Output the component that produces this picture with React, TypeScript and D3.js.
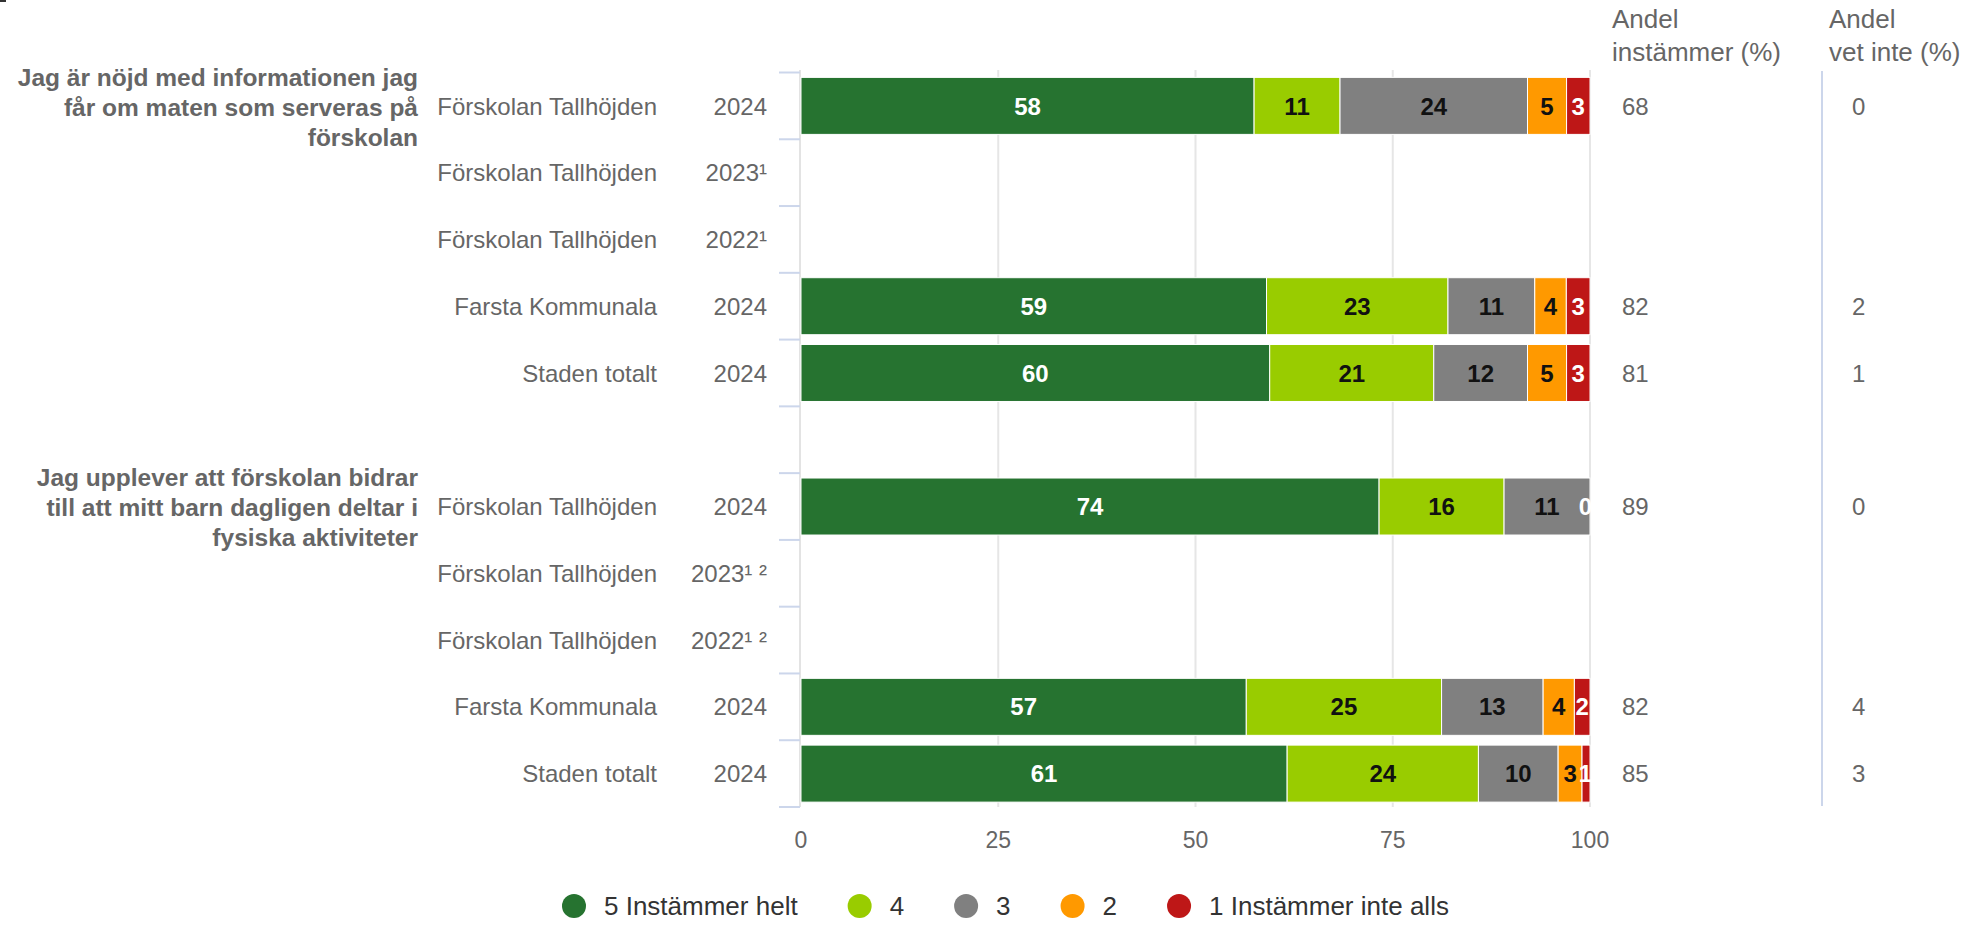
import React, { useEffect, useRef } from "react";
import * as d3 from "d3";

const questions: string[][] = [
  ["Jag är nöjd med informationen jag", "får om maten som serveras på", "förskolan"],
  ["Jag upplever att förskolan bidrar", "till att mitt barn dagligen deltar i", "fysiska aktiviteter"],
];
const questionRows = [0, 6];

const units = [
  "Förskolan Tallhöjden", "Förskolan Tallhöjden", "Förskolan Tallhöjden", "Farsta Kommunala", "Staden totalt",
  "",
  "Förskolan Tallhöjden", "Förskolan Tallhöjden", "Förskolan Tallhöjden", "Farsta Kommunala", "Staden totalt",
];
const years = ["2024", "2023¹", "2022¹", "2024", "2024", "", "2024", "2023¹ ²", "2022¹ ²", "2024", "2024"];

const seriesNames = ["5 Instämmer helt", "4", "3", "2", "1 Instämmer inte alls"];
const s5 = [58, null, null, 59, 60, null, 74, null, null, 57, 61];
const s4 = [11, null, null, 23, 21, null, 16, null, null, 25, 24];
const s3 = [24, null, null, 11, 12, null, 11, null, null, 13, 10];
const s2 = [5, null, null, 4, 5, null, 0, null, null, 4, 3];
const s1 = [3, null, null, 3, 3, null, 0, null, null, 2, 1];
const agreeShare = [68, null, null, 82, 81, null, 89, null, null, 82, 85];
const dontKnowShare = [0, null, null, 2, 1, null, 0, null, null, 4, 3];
const xTicks = [0, 25, 50, 75, 100];
const headerAgree = ["Andel", "instämmer (%)"];
const headerDontKnow = ["Andel", "vet inte (%)"];

const seriesColors = ["#267330", "#99cc00", "#808080", "#ff9900", "#be1717"];
const labelColors = ["#ffffff", "#111111", "#111111", "#111111", "#ffffff"];

const FONT = "'Liberation Sans', Arial, Helvetica, sans-serif";
const W = 1970;
const H = 925;

export default function App() {
  const ref = useRef<SVGSVGElement | null>(null);

  useEffect(() => {
    const svg = d3.select(ref.current);
    svg.selectAll("*").remove();
    svg.style("font-family", FONT);

    const series = [s5, s4, s3, s2, s1];
    const rowIdx = d3.range(units.length);
    const x = d3.scaleLinear().domain([0, 100]).range([801, 1590]);
    const y = d3.scaleBand<number>().domain(rowIdx).range([72.5, 807]).paddingInner(0).paddingOuter(0);
    const bw = y.bandwidth();
    const barH = 57;
    const cy = (i: number) => (y(i) as number) + bw / 2;

    // tiny mark top-left
    svg.append("rect").attr("x", 0).attr("y", 0).attr("width", 6).attr("height", 2).attr("fill", "#333");

    // gridlines
    svg.append("g").selectAll("line").data(xTicks.slice(1)).join("line")
      .attr("x1", (d) => x(d)).attr("x2", (d) => x(d))
      .attr("y1", 70).attr("y2", 807)
      .attr("stroke", "#e6e6e6").attr("stroke-width", 2);
    // axis line (0)
    svg.append("line").attr("x1", 800).attr("x2", 800).attr("y1", 70).attr("y2", 807)
      .attr("stroke", "#e3e3e3").attr("stroke-width", 2);
    // ticks at band boundaries
    const tickYs = rowIdx.map((i) => y(i) as number).concat([(y(units.length - 1) as number) + bw]);
    svg.append("g").selectAll("line").data(tickYs).join("line")
      .attr("x1", 779).attr("x2", 800).attr("y1", (d) => d).attr("y2", (d) => d)
      .attr("stroke", "#ccd6eb").attr("stroke-width", 2);

    // bars
    const barsG = svg.append("g");
    const labelsG = svg.append("g");
    rowIdx.forEach((i) => {
      const vals = series.map((s) => s[i]);
      if (vals[0] === null) return;
      const total = d3.sum(vals as number[]);
      let acc = 0;
      vals.forEach((v, k) => {
        const val = v as number;
        const x0 = x((acc / total) * 100);
        acc += val;
        const x1 = x((acc / total) * 100);
        if (val > 0) {
          barsG.append("rect")
            .attr("x", x0).attr("y", cy(i) - barH / 2)
            .attr("width", Math.max(0, x1 - x0)).attr("height", barH)
            .attr("fill", seriesColors[k]).attr("stroke", "#ffffff").attr("stroke-width", 1);
        }
        // zero labels: keep only last zero label
        if (val === 0) {
          const laterZero = vals.slice(k + 1).some((w) => w === 0);
          if (laterZero) return;
        }
        let cx = (x0 + x1) / 2;
        const halfW = String(val).length * 0.556 * 24 / 2;
        cx = Math.min(cx, 1590 - halfW + 2);
        labelsG.append("text")
          .attr("x", cx).attr("y", cy(i)).attr("dy", "0.36em")
          .attr("text-anchor", "middle")
          .attr("font-size", 24).attr("font-weight", "bold")
          .attr("fill", labelColors[k])
          .text(String(val));
      });
    });

    // category labels
    svg.append("g").selectAll("text").data(rowIdx).join("text")
      .attr("x", 657).attr("y", (i) => cy(i)).attr("dy", "0.36em")
      .attr("text-anchor", "end").attr("font-size", 24).attr("fill", "#666666")
      .text((i) => units[i]);
    svg.append("g").selectAll("text").data(rowIdx).join("text")
      .attr("x", 767).attr("y", (i) => cy(i)).attr("dy", "0.36em")
      .attr("text-anchor", "end").attr("font-size", 24).attr("fill", "#666666")
      .text((i) => years[i]);

    // question labels
    questions.forEach((lines, q) => {
      const c = cy(questionRows[q]) + 1;
      lines.forEach((ln, k) => {
        svg.append("text")
          .attr("x", 418).attr("y", c + (k - 1) * 30).attr("dy", "0.36em")
          .attr("text-anchor", "end").attr("font-size", 24.5).attr("font-weight", "bold")
          .attr("fill", "#666666").text(ln);
      });
    });

    // x axis labels
    svg.append("g").selectAll("text").data(xTicks).join("text")
      .attr("x", (d) => x(d)).attr("y", 848)
      .attr("text-anchor", "middle").attr("font-size", 23).attr("fill", "#666666")
      .text((d) => String(d));

    // headers
    const headers: [string[], number][] = [[headerAgree, 1612], [headerDontKnow, 1829]];
    headers.forEach(([lines, hx]) => {
      lines.forEach((ln, k) => {
        svg.append("text").attr("x", hx).attr("y", 28 + k * 33)
          .attr("font-size", 26).attr("fill", "#666666").text(ln);
      });
    });

    // separator
    svg.append("line").attr("x1", 1822).attr("x2", 1822).attr("y1", 71).attr("y2", 806)
      .attr("stroke", "#ccd6eb").attr("stroke-width", 2);

    // value columns
    svg.append("g").selectAll("text").data(rowIdx.filter((i) => agreeShare[i] !== null)).join("text")
      .attr("x", 1622).attr("y", (i) => cy(i)).attr("dy", "0.36em")
      .attr("font-size", 24).attr("fill", "#666666").text((i) => String(agreeShare[i]));
    svg.append("g").selectAll("text").data(rowIdx.filter((i) => dontKnowShare[i] !== null)).join("text")
      .attr("x", 1852).attr("y", (i) => cy(i)).attr("dy", "0.36em")
      .attr("font-size", 24).attr("fill", "#666666").text((i) => String(dontKnowShare[i]));

    // legend
    const lg = svg.append("g");
    let lx = 574;
    seriesNames.forEach((name, k) => {
      lg.append("circle").attr("cx", lx).attr("cy", 906).attr("r", 12).attr("fill", seriesColors[k]);
      const t = lg.append("text").attr("x", lx + 30).attr("y", 906).attr("dy", "0.36em")
        .attr("font-size", 26).attr("fill", "#333333").text(name);
      const tw = (t.node() as SVGTextElement).getComputedTextLength();
      lx = lx + 30 + tw + 62;
    });
  }, []);

  return (
    <svg
      ref={ref}
      width={W}
      height={H}
      style={{ position: "absolute", left: 0, top: 0, background: "#ffffff" }}
    />
  );
}
